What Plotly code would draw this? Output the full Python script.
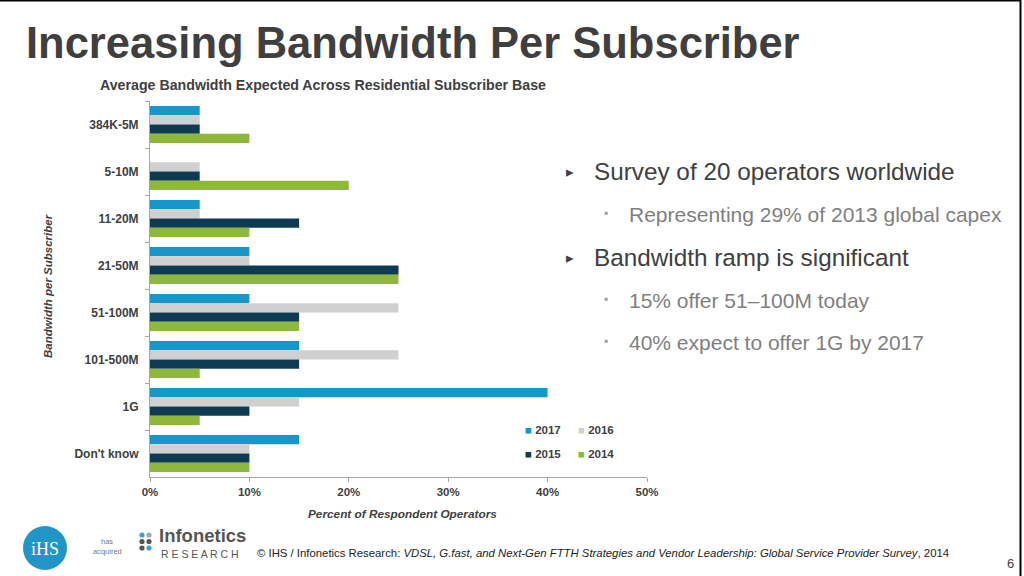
import plotly.graph_objects as go

# ---------------- data ----------------
categories = ["384K-5M", "5-10M", "11-20M", "21-50M", "51-100M", "101-500M", "1G", "Don't know"]
years = ["2017", "2016", "2015", "2014"]
v2017 = [5, 0, 5, 10, 10, 15, 40, 15]
v2016 = [5, 5, 5, 10, 25, 25, 15, 10]
v2015 = [5, 5, 15, 25, 15, 15, 10, 10]
v2014 = [10, 20, 10, 25, 15, 5, 5, 10]
series = [v2017, v2016, v2015, v2014]
colors = ["#1796cc", "#d0d0d0", "#0e3a52", "#8db83c"]
x_ticks = [0, 10, 20, 30, 40, 50]
x_ticktext = [f"{v}%" for v in x_ticks]

# ---------------- geometry helpers ----------------
W, H = 1024, 576
L, R, T, B = 150, 647, 101, 477
PW, PH = R - L, B - T


def px(x):
    return (x - L) / PW


def py(y):
    return (B - y) / PH


DARK = "#404040"
FONT = "Liberation Sans, Arial, sans-serif"

fig = go.Figure()
for name, vals, col in zip(years, series, colors):
    fig.add_trace(go.Bar(
        y=categories, x=vals, name=name, orientation="h",
        marker=dict(color=col, line=dict(width=0)),
        showlegend=False,
    ))

annotations = []


def ann(x, y, text, size, color=DARK, xanchor="left", yanchor="middle", bold=False,
        italic=False, family=FONT, angle=0):
    annotations.append(dict(
        x=px(x), y=py(y), xref="paper", yref="paper", text=text, showarrow=False,
        xanchor=xanchor, yanchor=yanchor, textangle=angle,
        font=dict(family=family, size=size, color=color,
                  weight="bold" if bold else "normal",
                  style="italic" if italic else "normal"),
    ))


# slide title
ann(24, 43, "Increasing Bandwidth Per Subscriber", 43.5, bold=True, color="#3f3f3f")
# chart title
ann(98, 85, "Average Bandwidth Expected Across Residential Subscriber Base", 14.2, bold=True, xanchor="left")
# axis titles
ann(402, 514, "Percent of Respondent Operators", 11.8, bold=True, italic=True, xanchor="center")
ann(48, 286, "Bandwidth per Subscriber", 11.5, bold=True, italic=True, xanchor="center", angle=-90)

# legend (two rows, two columns)
leg_pos = [(523, 430), (576, 430), (523, 454), (576, 454)]
for (lx, ly), name, col in zip(leg_pos, years, colors):
    ann(lx, ly, f"<span style='color:{col}'>■</span> {name}", 11.5, bold=True)

# bullets
ann(564, 171, "▸", 15, color=DARK)
ann(592, 171, "Survey of 20 operators worldwide", 24.3, color=DARK)
ann(602, 214, "•", 12, color="#a0a0a0")
ann(627, 214, "Representing 29% of 2013 global capex", 21, color="#7f7f7f")
ann(564, 257, "▸", 15, color=DARK)
ann(592, 257, "Bandwidth ramp is significant", 24.3, color=DARK)
ann(602, 300, "•", 12, color="#a0a0a0")
ann(627, 300, "15% offer 51–100M today", 21, color="#7f7f7f")
ann(602, 342, "•", 12, color="#a0a0a0")
ann(627, 342, "40% expect to offer 1G by 2017", 21, color="#7f7f7f")

# footer
ann(255, 553, "© IHS / Infonetics Research: <i>VDSL, G.fast, and Next-Gen FTTH Strategies and Vendor "
    "Leadership: Global Service Provider Survey</i>, 2014", 11.35, color="#222222")
ann(1010, 563, "6", 13, color=DARK, xanchor="center")

# logos text
ann(45, 549, "iHS", 18, color="white", xanchor="center", family="Liberation Serif, DejaVu Serif, serif")
ann(107, 541, "has", 7.5, color="#777777", xanchor="center")
ann(107, 551, "acquired", 7.5, color="#777777", xanchor="center")
ann(157, 535, "Infonetics", 18.5, color="#555555", bold=True)
ann(159, 554, "R E S E A R C H", 10.5, color="#555555")

shapes = []
# IHS circle
shapes.append(dict(type="circle", xref="paper", yref="paper",
                   x0=px(23), x1=px(67), y0=py(570), y1=py(526),
                   fillcolor="#2196c6", line=dict(width=0), layer="below"))
# infonetics dots
dot_cols = [["#3aa3cc", "#a8a8a8"], ["#555555", "#555555"], ["#555555", "#3aa3cc"]]
for r, row in enumerate(dot_cols):
    for c, col in enumerate(row):
        cx, cy = 142 + 7 * c, 535 + 6.5 * r
        shapes.append(dict(type="circle", xref="paper", yref="paper",
                           x0=px(cx - 2.6), x1=px(cx + 2.6), y0=py(cy + 2.6), y1=py(cy - 2.6),
                           fillcolor=col, line=dict(width=0)))
# slide border (top and right)
shapes.append(dict(type="line", xref="paper", yref="paper", x0=px(0), x1=px(1021),
                   y0=py(0.7), y1=py(0.7), line=dict(color="black", width=1.5)))
shapes.append(dict(type="line", xref="paper", yref="paper", x0=px(1020.5), x1=px(1020.5),
                   y0=py(0), y1=py(576), line=dict(color="black", width=2)))

axis_color = "#a6a6a6"
fig.update_layout(
    width=W, height=H,
    margin=dict(l=L, r=W - R, t=T, b=H - B, pad=0),
    paper_bgcolor="white", plot_bgcolor="white",
    barmode="group", bargap=0.21, bargroupgap=0,
    showlegend=False,
    font=dict(family=FONT, color=DARK),
    annotations=annotations, shapes=shapes,
    xaxis=dict(range=[0, 50], tickmode="array", tickvals=x_ticks, ticktext=x_ticktext,
               showgrid=False, zeroline=False,
               showline=True, linecolor=axis_color, linewidth=1,
               ticks="outside", ticklen=4, tickcolor=axis_color,
               tickfont=dict(size=11.5, color=DARK, weight="bold", family=FONT)),
    yaxis=dict(autorange="reversed", showgrid=False, zeroline=False,
               showline=True, linecolor=axis_color, linewidth=1,
               ticks="outside", ticklen=4, tickcolor=axis_color, tickson="boundaries",
               ticklabelstandoff=8,
               tickfont=dict(size=12, color=DARK, weight="bold", family=FONT)),
)

fig.write_html("out.html", config={"displayModeBar": False},
               post_script="document.body.style.margin='0';")
